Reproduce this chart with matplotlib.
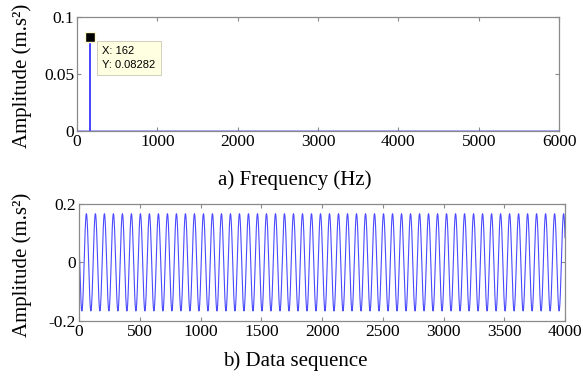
import matplotlib.pyplot as plt
import numpy as np

# spectrum: single tone picked by the data tip
fs = 12000          # sample rate (Hz), freq axis runs to Nyquist
n_samples = 4000
peak_freq = 162
peak_amp = 0.08282

# time signal read off panel b)
sig_amp = 0.166
sig_phase = 1.126   # start value ~0.072, falling

freq = np.arange(0, fs / 2 + 1, fs / n_samples)
spec = np.zeros_like(freq)
spec[np.argmin(np.abs(freq - peak_freq))] = peak_amp

n = np.arange(n_samples)
signal = sig_amp * np.cos(2 * np.pi * peak_freq * n / fs + sig_phase)

plt.rcParams['font.family'] = 'Liberation Serif'
line_col = '#4a4aff'
spine_col = '#8a8a8a'

fig = plt.figure(figsize=(5.83, 3.78), dpi=100)


def style(ax):
    for s in ax.spines.values():
        s.set_color(spine_col)
        s.set_linewidth(0.9)
    ax.tick_params(direction='in', top=True, right=True, length=3,
                   color=spine_col, labelsize=12.5, pad=2)


ax1 = fig.add_axes([0.132, 0.653, 0.827, 0.302])
ax1.plot(freq, spec, color=line_col, lw=0.9)
ax1.set_xlim(0, 6000)
ax1.set_ylim(0, 0.1)
ax1.set_xticks([0, 1000, 2000, 3000, 4000, 5000, 6000])
ax1.set_yticks([0, 0.05, 0.1])
ax1.set_yticklabels(['0', '0.05', '0.1'])
style(ax1)
ax1.plot([peak_freq], [peak_amp], marker='s', color='black', ms=7,
         mec='#fffbd0', mew=1)
ax1.annotate(f'X: {peak_freq}\nY: {peak_amp}', xy=(peak_freq, peak_amp),
             xytext=(9, -7), textcoords='offset points', va='top', ha='left',
             fontsize=8, family='Liberation Sans', linespacing=1.45,
             bbox=dict(boxstyle='square,pad=0.45', fc='#ffffe1', ec='#c8c8b4', lw=0.6))
fig.text(0.506, 0.523, 'a) Frequency (Hz)', ha='center', va='center', fontsize=15)
fig.text(0.038, 0.80, 'Amplitude (m.s²)', ha='center', va='center',
         rotation=90, fontsize=15)

ax2 = fig.add_axes([0.1355, 0.151, 0.834, 0.310])
ax2.plot(n, signal, color=line_col, lw=0.8)
ax2.set_xlim(0, 4000)
ax2.set_ylim(-0.2, 0.2)
ax2.set_xticks(np.arange(0, 4001, 500))
ax2.set_yticks([-0.2, 0, 0.2])
ax2.set_yticklabels(['-0.2', '0', '0.2'])
style(ax2)
fig.text(0.506, 0.045, 'b) Data sequence', ha='center', va='center', fontsize=15)
fig.text(0.038, 0.30, 'Amplitude (m.s²)', ha='center', va='center',
         rotation=90, fontsize=15)

fig.savefig('out.png', dpi=100)
